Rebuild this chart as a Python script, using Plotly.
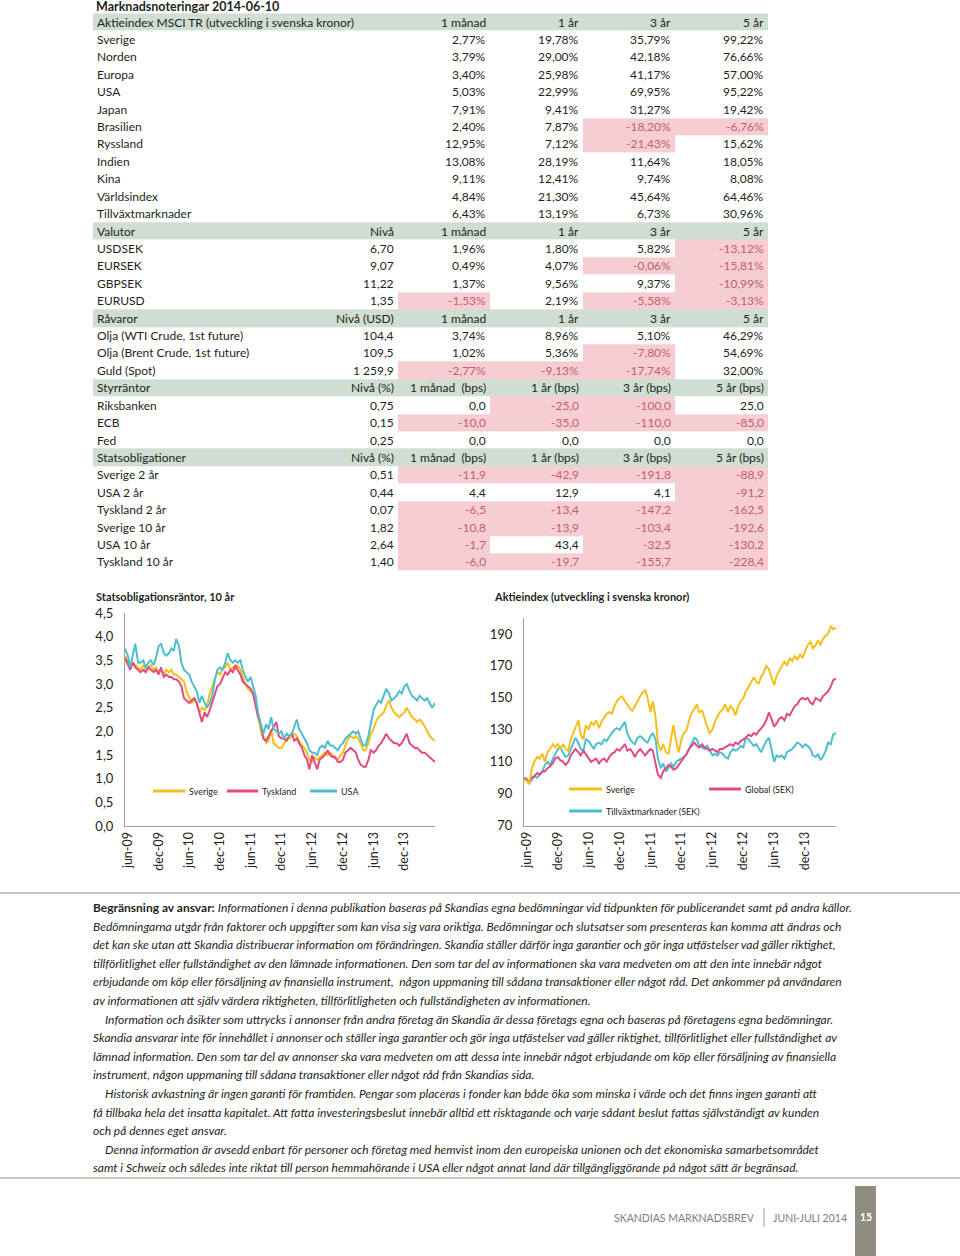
import plotly.graph_objects as go
import pandas as pd

W, H = 960, 1256

def px(x):
    return x / W

def py(y):
    return 1 - y / H

TEXT = "#231f20"
NEG = "#c25f6c"
PINK = "#f6cdd3"
GREEN = "#cfddd2"
YELLOW = "#f5bf1a"
MAGENTA = "#e24a85"
TEAL = "#4bbfd0"
AXIS = "#a0a0a0"

PAGE_TITLE = "Marknadsnoteringar 2014-06-10"

# ---------------- table data ----------------
AKTIE_HEAD = ["Aktieindex MSCI TR (utveckling i svenska kronor)", "", "1 månad", "1 år", "3 år", "5 år"]
AKTIE_ROWS = [
    ["Sverige", "", "2,77%", "19,78%", "35,79%", "99,22%"],
    ["Norden", "", "3,79%", "29,00%", "42,18%", "76,66%"],
    ["Europa", "", "3,40%", "25,98%", "41,17%", "57,00%"],
    ["USA", "", "5,03%", "22,99%", "69,95%", "95,22%"],
    ["Japan", "", "7,91%", "9,41%", "31,27%", "19,42%"],
    ["Brasilien", "", "2,40%", "7,87%", "-18,20%", "-6,76%"],
    ["Ryssland", "", "12,95%", "7,12%", "-21,43%", "15,62%"],
    ["Indien", "", "13,08%", "28,19%", "11,64%", "18,05%"],
    ["Kina", "", "9,11%", "12,41%", "9,74%", "8,08%"],
    ["Världsindex", "", "4,84%", "21,30%", "45,64%", "64,46%"],
    ["Tillväxtmarknader", "", "6,43%", "13,19%", "6,73%", "30,96%"],
]
VALUTA_HEAD = ["Valutor", "Nivå", "1 månad", "1 år", "3 år", "5 år"]
VALUTA_ROWS = [
    ["USDSEK", "6,70", "1,96%", "1,80%", "5,82%", "-13,12%"],
    ["EURSEK", "9,07", "0,49%", "4,07%", "-0,06%", "-15,81%"],
    ["GBPSEK", "11,22", "1,37%", "9,56%", "9,37%", "-10,99%"],
    ["EURUSD", "1,35", "-1,53%", "2,19%", "-5,58%", "-3,13%"],
]
RAVARA_HEAD = ["Råvaror", "Nivå (USD)", "1 månad", "1 år", "3 år", "5 år"]
RAVARA_ROWS = [
    ["Olja (WTI Crude, 1st future)", "104,4", "3,74%", "8,96%", "5,10%", "46,29%"],
    ["Olja (Brent Crude, 1st future)", "109,5", "1,02%", "5,36%", "-7,80%", "54,69%"],
    ["Guld (Spot)", "1 259,9", "-2,77%", "-9,13%", "-17,74%", "32,00%"],
]
STYR_HEAD = ["Styrräntor", "Nivå (%)", "1 månad  (bps)", "1 år (bps)", "3 år (bps)", "5 år (bps)"]
STYR_ROWS = [
    ["Riksbanken", "0,75", "0,0", "-25,0", "-100,0", "25,0"],
    ["ECB", "0,15", "-10,0", "-35,0", "-110,0", "-85,0"],
    ["Fed", "0,25", "0,0", "0,0", "0,0", "0,0"],
]
OBL_HEAD = ["Statsobligationer", "Nivå (%)", "1 månad  (bps)", "1 år (bps)", "3 år (bps)", "5 år (bps)"]
OBL_ROWS = [
    ["Sverige 2 år", "0,51", "-11,9", "-42,9", "-191,8", "-88,9"],
    ["USA 2 år", "0,44", "4,4", "12,9", "4,1", "-91,2"],
    ["Tyskland 2 år", "0,07", "-6,5", "-13,4", "-147,2", "-162,5"],
    ["Sverige 10 år", "1,82", "-10,8", "-13,9", "-103,4", "-192,6"],
    ["USA 10 år", "2,64", "-1,7", "43,4", "-32,5", "-130,2"],
    ["Tyskland 10 år", "1,40", "-6,0", "-19,7", "-155,7", "-228,4"],
]
SECTIONS = [(AKTIE_HEAD, AKTIE_ROWS), (VALUTA_HEAD, VALUTA_ROWS), (RAVARA_HEAD, RAVARA_ROWS),
            (STYR_HEAD, STYR_ROWS), (OBL_HEAD, OBL_ROWS)]

# ---------------- chart data (semi-monthly readings) ----------------
BOND_TICKS = ["jun-09", "dec-09", "jun-10", "dec-10", "jun-11", "dec-11", "jun-12", "dec-12", "jun-13", "dec-13"]
TICK_DATES = ["2009-06-01", "2009-12-01", "2010-06-01", "2010-12-01", "2011-06-01", "2011-12-01",
              "2012-06-01", "2012-12-01", "2013-06-01", "2013-12-01"]

BOND_SVERIGE = [3.6,
    3.45, 3.35, 3.45, 3.4, 3.35, 3.3, 3.4, 3.3, 3.35, 3.4, 3.3, 3.35,
    3.25, 3.3, 3.2, 3.3, 3.25, 3.3, 3.2, 3.2, 3.15, 3.1, 3.05, 2.85,
    2.7, 2.6, 2.65, 2.6, 2.4, 2.5, 2.45, 2.55, 2.8, 2.95, 3.1, 3.25,
    3.2, 3.3, 3.35, 3.45, 3.3, 3.35, 3.3, 3.4, 3.3, 3.15, 3.0, 2.9,
    2.85, 2.8, 2.6, 2.3, 2.0, 1.9, 1.75, 1.8, 2.05, 1.75, 1.7, 1.65,
    1.65, 1.75, 1.85, 1.85, 1.9, 1.95, 1.9, 1.8, 1.7, 1.65, 1.55, 1.4,
    1.35, 1.45, 1.4, 1.45, 1.5, 1.55, 1.5, 1.55, 1.5, 1.45, 1.4, 1.5,
    1.55, 1.7, 1.85, 1.9, 1.85, 1.9, 1.85, 1.75, 1.6, 1.6, 1.75, 1.95,
    2.05, 2.2, 2.3, 2.35, 2.4, 2.55, 2.65, 2.5, 2.4, 2.35, 2.3, 2.35,
    2.4, 2.5, 2.4, 2.3, 2.25, 2.2, 2.25, 2.2, 2.1, 2.0, 1.9, 1.85,
    1.8]
BOND_TYSKLAND = [3.55,
    3.4, 3.3, 3.45, 3.35, 3.3, 3.25, 3.3, 3.25, 3.35, 3.3, 3.25, 3.3,
    3.2, 3.35, 3.15, 3.2, 3.15, 3.15, 3.1, 3.1, 3.05, 2.95, 2.7, 2.65,
    2.6, 2.65, 2.7, 2.6, 2.35, 2.2, 2.4, 2.3, 2.45, 2.6, 2.8, 2.95,
    3.0, 3.1, 3.25, 3.2, 3.3, 3.25, 3.4, 3.3, 3.2, 3.05, 3.0, 2.95,
    2.9, 2.8, 2.55, 2.3, 2.15, 1.85, 1.8, 1.9, 2.0, 2.1, 2.2, 1.9,
    1.85, 1.85, 1.8, 1.9, 1.95, 1.8, 1.85, 1.75, 1.65, 1.5, 1.4, 1.2,
    1.5, 1.35, 1.2, 1.4, 1.45, 1.5, 1.6, 1.5, 1.45, 1.45, 1.35, 1.35,
    1.4, 1.55, 1.6, 1.65, 1.6, 1.55, 1.4, 1.3, 1.25, 1.25, 1.4, 1.6,
    1.55, 1.6, 1.7, 1.75, 1.85, 1.95, 1.85, 1.8, 1.75, 1.75, 1.7, 1.75,
    1.85, 1.95, 1.75, 1.7, 1.65, 1.65, 1.6, 1.55, 1.55, 1.5, 1.45, 1.4,
    1.35]
BOND_USA = [3.75,
    3.6, 3.35, 3.6, 3.85, 3.45, 3.45, 3.5, 3.35, 3.45, 3.5, 3.4, 3.55,
    3.8, 3.85, 3.65, 3.6, 3.65, 3.75, 3.7, 3.95, 3.8, 3.45, 3.3, 3.25,
    3.2, 3.05, 2.95, 2.85, 2.6, 2.75, 2.6, 2.5, 2.6, 2.75, 3.1, 3.3,
    3.35, 3.3, 3.45, 3.65, 3.5, 3.45, 3.5, 3.45, 3.5, 3.3, 3.15, 3.05,
    3.15, 2.95, 2.75, 2.4, 2.15, 1.95, 2.15, 2.05, 2.3, 2.05, 2.0, 1.95,
    2.0, 1.85, 1.95, 1.9, 1.95, 2.1, 2.25, 2.05, 1.95, 1.85, 1.75, 1.6,
    1.55, 1.55, 1.5, 1.65, 1.7, 1.65, 1.8, 1.7, 1.7, 1.65, 1.6, 1.7,
    1.75, 1.85, 1.9, 1.95, 2.0, 1.95, 2.0, 1.85, 1.7, 1.7, 1.9, 2.15,
    2.45, 2.55, 2.65, 2.6, 2.75, 2.9, 2.8, 2.65, 2.7, 2.75, 2.85, 2.8,
    2.95, 3.0, 2.85, 2.75, 2.7, 2.65, 2.75, 2.7, 2.65, 2.7, 2.6, 2.5,
    2.6]

EQ_SVERIGE = [99,
    98, 96, 106, 110, 113, 112, 115, 110, 116, 118, 121, 119,
    121, 118, 121, 118, 117, 124, 128, 131, 136, 127, 124, 133,
    130, 135, 133, 136, 131, 135, 138, 140, 141, 140, 145, 148,
    150, 151, 148, 146, 143, 142, 145, 148, 151, 153, 155, 150,
    141, 148, 138, 122, 117, 121, 116, 115, 126, 133, 122, 116,
    124, 128, 130, 136, 141, 143, 146, 141, 142, 137, 132, 128,
    130, 135, 138, 141, 143, 146, 141, 145, 143, 139, 145, 148,
    150, 154, 157, 160, 163, 160, 159, 163, 166, 170, 168, 163,
    158, 164, 167, 170, 173, 170, 175, 173, 176, 174, 177, 175,
    179, 183, 185, 181, 183, 186, 183, 187, 189, 190, 195, 193,
    194]
EQ_GLOBAL = [100,
    99, 97, 100, 101, 103, 102, 104, 104, 106, 107, 109, 112,
    113, 111, 110, 108, 110, 114, 116, 118, 116, 114, 117, 115,
    112, 110, 111, 112, 109, 111, 112, 110, 113, 115, 116, 118,
    117, 119, 121, 117, 118, 116, 113, 116, 118, 116, 114, 116,
    118, 117, 110, 102, 100, 104, 106, 108, 107, 105, 106, 108,
    110, 112, 115, 118, 120, 122, 120, 119, 121, 119, 118, 117,
    118, 117, 116, 118, 118, 119, 120, 121, 120, 122, 121, 123,
    124, 125, 127, 126, 128, 127, 129, 131, 133, 136, 141, 137,
    132, 134, 137, 138, 136, 140, 139, 142, 145, 146, 149, 150,
    149, 150, 147, 146, 150, 149, 148, 151, 153, 154, 157, 161,
    162]
EQ_TILLVAXT = [100,
    98, 97, 99, 101, 100, 102, 104, 108, 110, 108, 112, 115,
    118, 119, 116, 113, 114, 118, 121, 125, 122, 118, 117, 124,
    123, 121, 118, 121, 122, 121, 124, 123, 126, 128, 130, 131,
    130, 132, 135, 128, 124, 122, 121, 125, 126, 125, 123, 122,
    126, 128, 124, 112, 106, 109, 104, 106, 109, 107, 110, 111,
    112, 113, 115, 118, 122, 125, 124, 120, 119, 118, 120, 117,
    114, 115, 114, 116, 115, 113, 112, 116, 118, 117, 118, 120,
    119, 125, 124, 122, 120, 121, 118, 116, 120, 123, 125, 119,
    110, 114, 113, 114, 112, 116, 117, 118, 120, 122, 121, 119,
    121, 120, 118, 114, 113, 115, 111, 113, 117, 122, 121, 127,
    128]

DATES = pd.date_range("2009-05-15", periods=len(BOND_USA), freq="SMS")

DISCLAIMER = [
    (0, "<b>Begränsning av ansvar:</b> <i>Informationen i denna publikation baseras på Skandias egna bedömningar vid tidpunkten för publicerandet samt på andra källor.</i>"),
    (0, "<i>Bedömningarna utgår från faktorer och uppgifter som kan visa sig vara oriktiga. Bedömningar och slutsatser som presenteras kan komma att ändras och</i>"),
    (0, "<i>det kan ske utan att Skandia distribuerar information om förändringen. Skandia ställer därför inga garantier och gör inga utfästelser vad gäller riktighet,</i>"),
    (0, "<i>tillförlitlighet eller fullständighet av den lämnade informationen. Den som tar del av informationen ska vara medveten om att den inte innebär något</i>"),
    (0, "<i>erbjudande om köp eller försäljning av finansiella instrument,  någon uppmaning till sådana transaktioner eller något råd. Det ankommer på användaren</i>"),
    (0, "<i>av informationen att själv värdera riktigheten, tillförlitligheten och fullständigheten av informationen.</i>"),
    (1, "<i>Information och åsikter som uttrycks i annonser från andra företag än Skandia är dessa företags egna och baseras på företagens egna bedömningar.</i>"),
    (0, "<i>Skandia ansvarar inte för innehållet i annonser och ställer inga garantier och gör inga utfästelser vad gäller riktighet, tillförlitlighet eller fullständighet av</i>"),
    (0, "<i>lämnad information. Den som tar del av annonser ska vara medveten om att dessa inte innebär något erbjudande om köp eller försäljning av finansiella</i>"),
    (0, "<i>instrument, någon uppmaning till sådana transaktioner eller något råd från Skandias sida.</i>"),
    (1, "<i>Historisk avkastning är ingen garanti för framtiden. Pengar som placeras i fonder kan både öka som minska i värde och det finns ingen garanti att</i>"),
    (0, "<i>få tillbaka hela det insatta kapitalet. Att fatta investeringsbeslut innebär alltid ett risktagande och varje sådant beslut fattas självständigt av kunden</i>"),
    (0, "<i>och på dennes eget ansvar.</i>"),
    (1, "<i>Denna information är avsedd enbart för personer och företag med hemvist inom den europeiska unionen och det ekonomiska samarbetsområdet</i>"),
    (0, "<i>samt i Schweiz och således inte riktat till person hemmahörande i USA eller något annat land där tillgängliggörande på något sätt är begränsad.</i>"),
]

FOOTER_LEFT = "SKANDIAS MARKNADSBREV"
FOOTER_RIGHT = "JUNI-JULI 2014"
PAGE_NO = "15"

# ---------------- build table ----------------
COL_EDGES = [93, 305, 398, 490, 583, 675, 768]
rows, kinds = [], []
for head, body in SECTIONS:
    rows.append(head); kinds.append("head")
    for r in body:
        rows.append(r); kinds.append("data")
NROWS = len(rows)

z = []
for r, k in zip(rows, kinds):
    if k == "head":
        z.append([2] * 6)
    else:
        z.append([0, 0] + [1 if v.startswith("-") else 0 for v in r[2:]])

fig = go.Figure()
fig.add_trace(go.Heatmap(
    z=z, x=COL_EDGES, y=list(range(NROWS)), xaxis="x3", yaxis="y3",
    colorscale=[[0, "white"], [0.33, "white"], [0.33, PINK], [0.67, PINK], [0.67, GREEN], [1, GREEN]],
    zmin=0, zmax=2, showscale=False, hoverinfo="skip", xgap=0, ygap=0))

ann = []
TFONT = dict(family="Lato", size=12, color=TEXT)
for i, (r, k) in enumerate(zip(rows, kinds)):
    ann.append(dict(x=COL_EDGES[0] + 1.5, y=i, xref="x3", yref="y3", text=r[0], showarrow=False,
                    xanchor="left", yanchor="middle", font=TFONT))
    for j in range(1, 6):
        v = r[j]
        if not v:
            continue
        col = NEG if (k == "data" and v.startswith("-")) else TEXT
        ann.append(dict(x=COL_EDGES[j + 1] - 2, y=i, xref="x3", yref="y3", text=v, showarrow=False,
                        xanchor="right", yanchor="middle", font=dict(family="Lato", size=12, color=col)))

# ---------------- charts ----------------
LW = 2
for ys, c in [(BOND_SVERIGE, YELLOW), (BOND_TYSKLAND, MAGENTA), (BOND_USA, TEAL)]:
    fig.add_trace(go.Scatter(x=DATES, y=ys, mode="lines", line=dict(color=c, width=LW),
                             xaxis="x", yaxis="y", hoverinfo="skip"))
for ys, c in [(EQ_TILLVAXT, TEAL), (EQ_GLOBAL, MAGENTA), (EQ_SVERIGE, YELLOW)]:
    fig.add_trace(go.Scatter(x=DATES, y=ys, mode="lines", line=dict(color=c, width=LW),
                             xaxis="x2", yaxis="y2", hoverinfo="skip"))

xcommon = dict(type="date", range=["2009-05-15", "2014-06-01"], tickvals=TICK_DATES, ticktext=BOND_TICKS,
               tickangle=-90, tickfont=dict(family="Lato", size=12.5, color=TEXT), showline=True,
               linecolor=AXIS, linewidth=1, showgrid=False, zeroline=False, ticks="", automargin=False)
ycommon = dict(showline=True, linecolor=AXIS, linewidth=1, showgrid=False, zeroline=False, ticks="",
               tickfont=dict(family="Lato", size=13, color=TEXT), ticklabelstandoff=8, automargin=False)

fig.update_layout(
    width=W, height=H, margin=dict(l=0, r=0, t=0, b=0, pad=0, autoexpand=False),
    paper_bgcolor="white", plot_bgcolor="white",
    showlegend=False, separators=", ", font=dict(family="Lato", color=TEXT),
    xaxis=dict(domain=[px(125), px(435)], anchor="y", **xcommon),
    yaxis=dict(domain=[py(826), py(613)], anchor="x", range=[0, 4.5], dtick=0.5, tick0=0,
               tickformat=".1f", **ycommon),
    xaxis2=dict(domain=[px(524), px(836)], anchor="y2", **xcommon),
    yaxis2=dict(domain=[py(825.7), py(618)], anchor="x2", range=[70, 200], tickvals=[70, 90, 110, 130, 150, 170, 190],
                **ycommon),
    xaxis3=dict(domain=[px(COL_EDGES[0]), px(COL_EDGES[-1])], range=[COL_EDGES[0], COL_EDGES[-1]],
                visible=False, anchor="y3", fixedrange=True, automargin=False),
    yaxis3=dict(domain=[py(570.7), py(13.3)], range=[NROWS - 0.5, -0.5], visible=False, anchor="x3",
                fixedrange=True, automargin=False),
)

# titles
ann.append(dict(x=px(94), y=py(6), xref="paper", yref="paper", text="<b>" + PAGE_TITLE + "</b>",
                showarrow=False, xanchor="left", yanchor="middle", font=dict(family="Lato", size=12.5, color=TEXT)))
ann.append(dict(x=px(94), y=py(597), xref="paper", yref="paper", text="<b>Statsobligationsräntor, 10 år</b>",
                showarrow=False, xanchor="left", yanchor="middle", font=dict(family="Lato", size=11, color=TEXT)))
ann.append(dict(x=px(492), y=py(597), xref="paper", yref="paper", text="<b>Aktieindex (utveckling i svenska kronor)</b>",
                showarrow=False, xanchor="left", yanchor="middle", font=dict(family="Lato", size=11, color=TEXT)))

# legends
shapes = []
LEG = [
    (153, 185, 791, YELLOW, "Sverige"), (227, 258, 791, MAGENTA, "Tyskland"), (310, 337, 791, TEAL, "USA"),
    (569, 602, 789, YELLOW, "Sverige"), (709, 741, 789, MAGENTA, "Global (SEK)"),
    (569, 602, 811, TEAL, "Tillväxtmarknader (SEK)"),
]
for x0, x1, yy, c, t in LEG:
    shapes.append(dict(type="line", xref="paper", yref="paper", x0=px(x0), x1=px(x1), y0=py(yy), y1=py(yy),
                       line=dict(color=c, width=3)))
    ann.append(dict(x=px(x1 + 2), y=py(yy), xref="paper", yref="paper", text=t, showarrow=False,
                    xanchor="left", yanchor="middle", font=dict(family="Lato", size=9, color=TEXT)))

# rules
for yy in [893, 1178]:
    shapes.append(dict(type="line", xref="paper", yref="paper", x0=0, x1=1, y0=py(yy), y1=py(yy),
                       line=dict(color="#b7b5ab", width=1.5)))

# disclaimer
for k, (indent, t) in enumerate(DISCLAIMER):
    yy = 907.5 + k * 18.6
    ann.append(dict(x=px(91 + 12 * indent), y=py(yy), xref="paper", yref="paper", text=t, showarrow=False,
                    xanchor="left", yanchor="middle",
                    font=dict(family="Lato", size=12, color=TEXT)))

# footer
shapes.append(dict(type="rect", xref="paper", yref="paper", x0=px(855), x1=px(876), y0=0, y1=py(1186),
                   fillcolor="#8f8d7d", line=dict(width=0)))
shapes.append(dict(type="line", xref="paper", yref="paper", x0=px(764), x1=px(764), y0=py(1208), y1=py(1227),
                   line=dict(color="#9a9a9a", width=1)))
ann.append(dict(x=px(757), y=py(1217.5), xref="paper", yref="paper", text=FOOTER_LEFT, showarrow=False,
                xanchor="right", yanchor="middle", font=dict(family="Lato", size=10.5, color="#7d7d7d")))
ann.append(dict(x=px(771), y=py(1217.5), xref="paper", yref="paper", text=FOOTER_RIGHT, showarrow=False,
                xanchor="left", yanchor="middle", font=dict(family="Lato", size=10.5, color="#7d7d7d")))
ann.append(dict(x=px(866), y=py(1217), xref="paper", yref="paper", text="<b>" + PAGE_NO + "</b>", showarrow=False,
                xanchor="center", yanchor="middle", font=dict(family="Lato", size=10.5, color="white")))

fig.update_layout(annotations=ann, shapes=shapes)
# the page body's default 8 px margin would push the page off its 960x1256 frame
fig.write_html("out.html", config={"displayModeBar": False},
               post_script="document.body.style.margin='0';")
